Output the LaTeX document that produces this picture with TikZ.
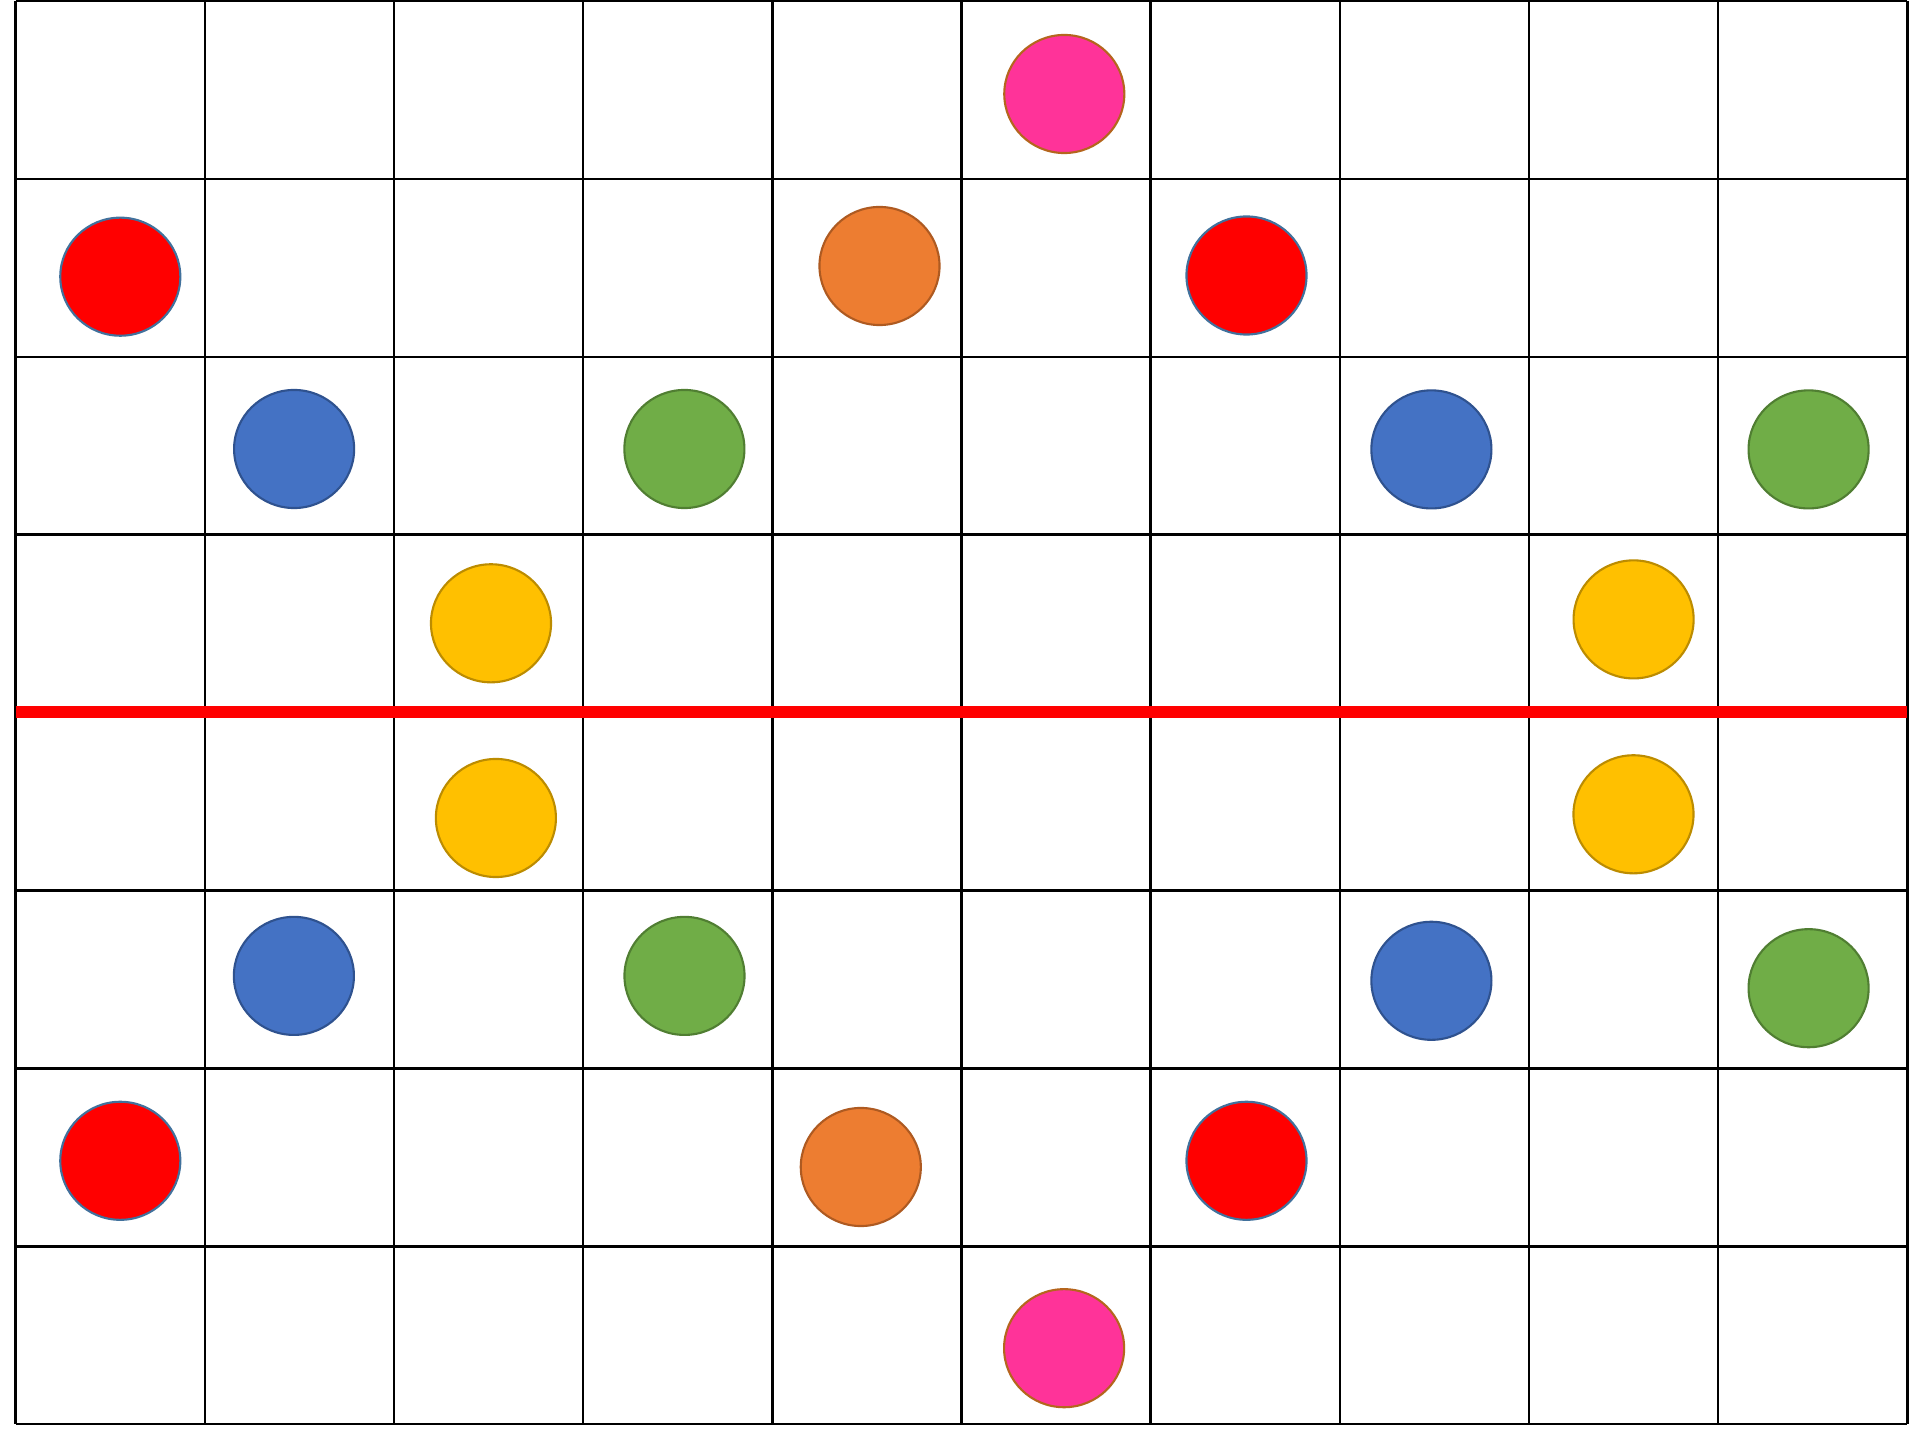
\documentclass[tikz,border=0pt]{standalone}
\usetikzlibrary{shapes.geometric}
\definecolor{cRed}{HTML}{FF0000}\definecolor{bRed}{HTML}{41719C}
\definecolor{cOra}{HTML}{ED7D31}\definecolor{bOra}{HTML}{AE5A21}
\definecolor{cGre}{HTML}{70AD47}\definecolor{bGre}{HTML}{507E32}
\definecolor{cBlu}{HTML}{4472C4}\definecolor{bBlu}{HTML}{2F528F}
\definecolor{cYel}{HTML}{FFC000}\definecolor{bYel}{HTML}{BC8C00}
\definecolor{cPin}{HTML}{FF3399}\definecolor{bPin}{HTML}{B5651D}
\tikzset{
  gridline/.style={draw=black, line width=0.72pt},
  midline/.style={draw=cRed, line width=3.4pt},
  dot/.style={ellipse, minimum width=1.2cm, minimum height=1.18cm, inner sep=0pt, line width=0.6pt},
  reddot/.style={dot, fill=cRed, draw=bRed},
  oradot/.style={dot, fill=cOra, draw=bOra},
  gredot/.style={dot, fill=cGre, draw=bGre},
  bludot/.style={dot, fill=cBlu, draw=bBlu},
  yeldot/.style={dot, fill=cYel, draw=bYel},
  pindot/.style={dot, fill=cPin, draw=bPin},
}
\begin{document}
\begin{tikzpicture}[x=0.01cm, y=-0.01cm]
\useasboundingbox (0,0) rectangle (1920,1440);
\fill[white] (0,0) rectangle (1920,1440);
% vertical lines
\foreach \i in {0,...,10} {
  \pgfmathsetmacro{\xx}{15.7+189.16*\i}
  \draw[gridline] (\xx,1) -- (\xx,1424.2);
}
% horizontal lines
\foreach \j in {0,1,2,3,5,6,7,8} {
  \pgfmathsetmacro{\yy}{1+177.9*\j}
  \draw[gridline] (15.7,\yy) -- (1907.3,\yy);
}
\draw[midline] (15.7,712) -- (1907.3,712);
% dots
\node[pindot] (p1) at (1064.3,94) {};
\node[reddot] (r1) at (120.3,276.7) {};
\node[oradot] (o1) at (879.5,266) {};
\node[reddot] (r2) at (1246.5,275.5) {};
\node[bludot] (b1) at (294.1,449) {};
\node[gredot] (g1) at (684.4,449) {};
\node[bludot] (b2) at (1431.4,449.4) {};
\node[gredot] (g2) at (1808.6,449.4) {};
\node[yeldot] (y1) at (491,623.3) {};
\node[yeldot] (y2) at (1633.6,619.4) {};
\node[yeldot] (y3) at (495.9,818) {};
\node[yeldot] (y4) at (1633.5,814.3) {};
\node[bludot] (b3) at (293.9,975.9) {};
\node[gredot] (g3) at (684.5,975.9) {};
\node[bludot] (b4) at (1431.4,980.8) {};
\node[gredot] (g4) at (1808.6,988.2) {};
\node[reddot] (r3) at (120.3,1160.8) {};
\node[oradot] (o2) at (860.8,1167) {};
\node[reddot] (r4) at (1246.5,1160.8) {};
\node[pindot] (p2) at (1064.1,1348.2) {};
\end{tikzpicture}
\end{document}
